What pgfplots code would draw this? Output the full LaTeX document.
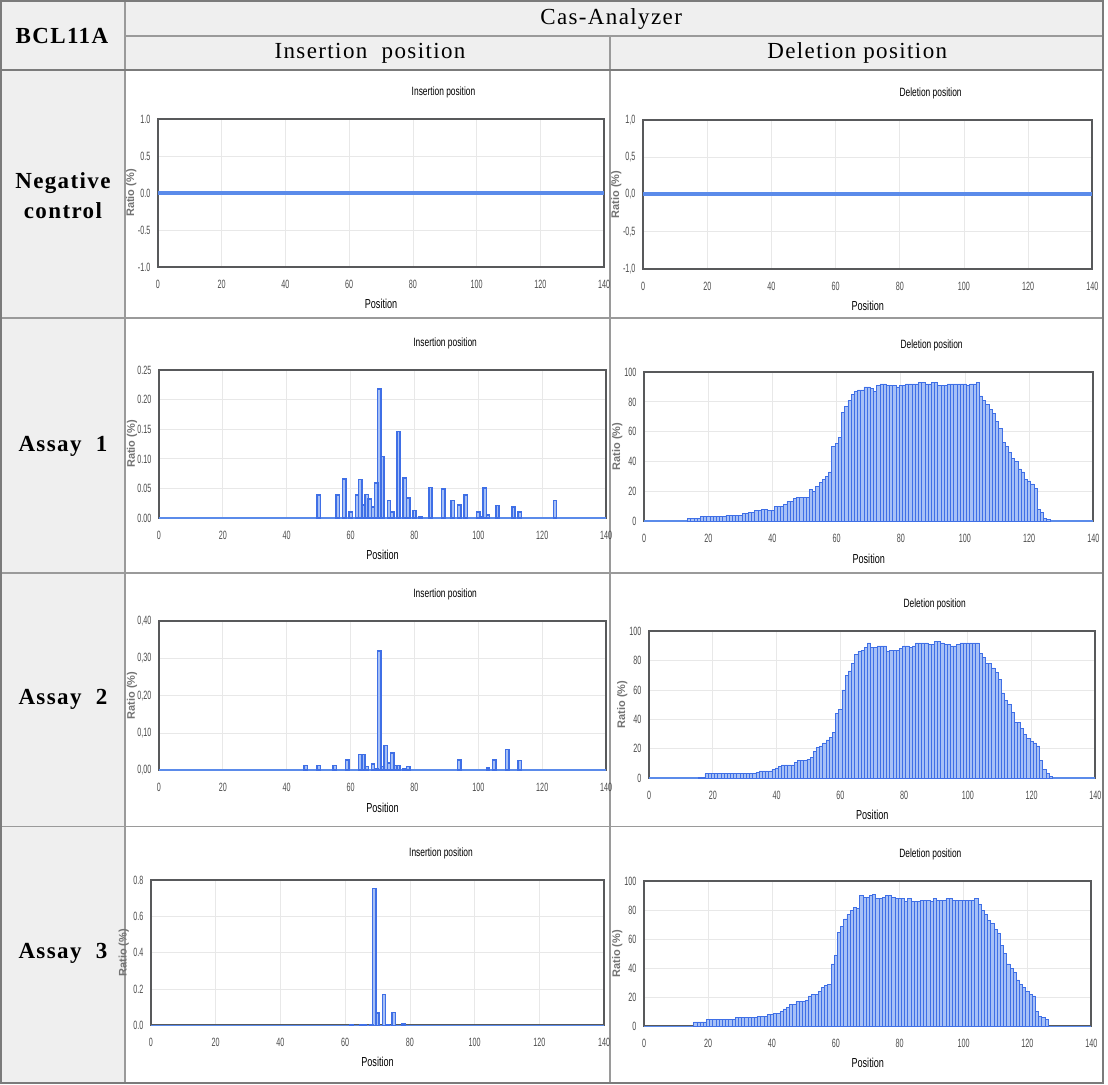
\documentclass[border=0pt]{standalone}
\usepackage{fontspec}
\setmainfont{Liberation Serif}
\newfontfamily\hdfont[LetterSpace=6]{Liberation Serif}
\newfontfamily\plotfont[FakeStretch=0.7]{Liberation Sans}
\newfontfamily\ticfont[FakeStretch=0.6]{Liberation Sans}
\newfontfamily\labfont{Liberation Sans}
\usepackage{pgfplots}
\pgfplotsset{compat=1.18}
\definecolor{barln}{HTML}{3F6FE6}
\definecolor{barfl}{HTML}{A6C0F6}
\definecolor{zln}{HTML}{5B8BEA}
\definecolor{frm}{HTML}{58595B}
\definecolor{cellbg}{HTML}{EFEFEF}
\definecolor{rul}{HTML}{9A9A9A}
\pgfplotsset{
  cell/.style={scale only axis,anchor=north west,xmin=0,xmax=140,xtick={0,20,...,140},
    grid=major,major grid style={gray!18,line width=0.4pt},
    axis line style={frm,line width=1pt},major tick length=0pt,
    tick label style={font=\ticfont\fontsize{6}{7}\selectfont,text=black!70},
    /pgf/number format/assume math mode=true,
    xticklabel style={yshift=-3pt},yticklabel style={xshift=-0.3pt},
    title style={font=\plotfont\fontsize{6}{7}\selectfont,at={(axis description cs:0.64,1)},anchor=center,yshift=7.5pt},
    xlabel={Position},xlabel style={font=\plotfont\fontsize{6.5}{7}\selectfont,at={(axis description cs:0.5,-0.25)},anchor=center},
    ylabel={Ratio (\%)},ylabel style={font=\labfont\bfseries\fontsize{5.5}{6}\selectfont,text=black!55,at={(axis description cs:-0.06,0.5)},anchor=center}},
  ins/.style={ybar,bar width=1.05,bar shift=0pt,draw=barln,fill=barfl,line width=0.75pt},
  del/.style={ybar,bar width=1,bar shift=0pt,draw=barln,fill=barfl,line width=0.35pt},
  zero/.style={zln,line width=0.8pt},
  negz/.style={zln,line width=2pt},
  yfix/.style={yticklabel style={/pgf/number format/.cd,fixed,fixed zerofill,precision=#1}}
}

\begin{document}
\begin{tikzpicture}
% table
\begin{scope}[x=0.5pt,y=-0.5pt]
\fill[cellbg] (3,3) rectangle (1105,72);
\fill[cellbg] (3,72) rectangle (127,1085);
\draw[rul,line width=0.7pt] (127,38)--(1105,38);
\draw[rul,line width=0.7pt] (127,3)--(127,1085);
\draw[rul,line width=0.7pt] (612,38)--(612,1085);
\draw[rul!80!black,line width=0.9pt] (3,72)--(1105,72);
\foreach \yy in {320,575,828} \draw[rul,line width=0.7pt] (3,\yy)--(1105,\yy);
\draw[rul!80!black,line width=0.9pt] (3,3) rectangle (1105,1085);
\node[font=\hdfont\bfseries\fontsize{11.5}{13}\selectfont] at (64,38) {BCL11A};
\node[font=\hdfont\fontsize{11.5}{13}\selectfont] at (613,21) {Cas-Analyzer};
\node[font=\hdfont\fontsize{11.5}{13}\selectfont] at (372,55) {Insertion\ \ position};
\node[font=\hdfont\fontsize{11.5}{13}\selectfont] at (859,55) {Deletion position};
\node[font=\hdfont\bfseries\fontsize{11.5}{13}\selectfont,align=center] at (65,198) {Negative\\[2pt]control};
\node[font=\hdfont\bfseries\fontsize{11.5}{13}\selectfont] at (65,448) {Assay\ \ 1};
\node[font=\hdfont\bfseries\fontsize{11.5}{13}\selectfont] at (65,701) {Assay\ \ 2};
\node[font=\hdfont\bfseries\fontsize{11.5}{13}\selectfont] at (65,955) {Assay\ \ 3};
\end{scope}

% Negative control, insertion
\begin{axis}[cell,at={(80pt,-60.5pt)},width=223pt,height=74pt,ymin=-1,ymax=1,ytick={-1,-0.5,0,0.5,1},yfix=1,title={Insertion position}]
\addplot[negz] coordinates {(0,0) (140,0)};
\end{axis}
% Negative control, deletion
\begin{axis}[cell,at={(322.5pt,-61pt)},width=224.5pt,height=74.5pt,ymin=-1,ymax=1,ytick={-1,-0.5,0,0.5,1},yfix=1,
  yticklabel style={/pgf/number format/use comma},title={Deletion position}]
\addplot[negz] coordinates {(0,0) (140,0)};
\end{axis}

% Assay 1, insertion
\begin{axis}[cell,at={(80.5pt,-186pt)},width=223.5pt,height=74pt,ymin=0,ymax=0.25,ytick={0,0.05,...,0.26},yfix=2,title={Insertion position}]
\addplot[zero] coordinates {(0,0) (140,0)};
\addplot[ins] coordinates {(50,0.039) (56,0.039) (58,0.066) (60,0.010) (62,0.039) (63,0.065) (64,0.022) (65,0.040)
  (66,0.032) (67,0.019) (68,0.059) (69,0.218) (70,0.104) (72,0.030) (73,0.010) (75,0.146) (77,0.068) (78,0.034)
  (80,0.013) (82,0.003) (85,0.052) (89,0.049) (92,0.030) (94,0.022) (96,0.039) (100,0.010) (101,0.003) (102,0.051)
  (103,0.005) (106,0.021) (111,0.019) (113,0.010) (124,0.030)};
\end{axis}
% Assay 1, deletion
\begin{axis}[cell,at={(323pt,-187pt)},width=224.5pt,height=74.5pt,ymin=0,ymax=100,ytick={0,20,...,100},title={Deletion position}]
\addplot[zero] coordinates {(0,0) (140,0)};
\addplot[del] coordinates {(14,2) (15,2) (16,2) (17,2) (18,3) (19,3) (20,3) (21,3) (22,3) (23,3) (24,3) (25,3)
  (26,4) (27,4) (28,4) (29,4) (30,4) (31,5) (32,5) (33,6) (34,6) (35,7) (36,7) (37,8) (38,8) (39,7) (40,7)
  (41,10) (42,10) (43,10) (44,11) (45,13) (46,13) (47,15) (48,16) (49,16) (50,16) (51,16) (52,21) (53,20)
  (54,23) (55,26) (56,28) (57,30) (58,33) (59,50) (60,52) (61,56) (62,73) (63,77) (64,81) (65,85) (66,87)
  (67,88) (68,88) (69,90) (70,90) (71,89) (72,87) (73,91) (74,92) (75,92) (76,91) (77,91) (78,91) (79,90)
  (80,91) (81,91) (82,92) (83,92) (84,92) (85,92) (86,93) (87,93) (88,92) (89,92) (90,93) (91,93) (92,91)
  (93,91) (94,91) (95,92) (96,92) (97,92) (98,92) (99,92) (100,92) (101,91) (102,92) (103,92) (104,93)
  (105,84) (106,81) (107,78) (108,75) (109,72) (110,67) (111,62) (112,53) (113,50) (114,46) (115,42)
  (116,40) (117,35) (118,33) (119,28) (120,27) (121,25) (122,22) (123,8) (124,6) (125,2) (126,1)};
\end{axis}

% Assay 2, insertion
\begin{axis}[cell,at={(80.5pt,-311.5pt)},width=223.5pt,height=74.5pt,ymin=0,ymax=0.4,ytick={0,0.1,...,0.41},yfix=2,
  yticklabel style={/pgf/number format/use comma},title={Insertion position}]
\addplot[zero] coordinates {(0,0) (140,0)};
\addplot[ins] coordinates {(46,0.013) (50,0.013) (55,0.013) (59,0.027) (63,0.042) (64,0.042) (65,0.010) (67,0.016)
  (68,0.005) (69,0.320) (70,0.010) (71,0.066) (72,0.020) (73,0.046) (74,0.013) (75,0.013) (77,0.005) (78,0.010)
  (94,0.027) (103,0.006) (105,0.027) (109,0.055) (113,0.026)};
\end{axis}
% Assay 2, deletion
\begin{axis}[cell,at={(325.5pt,-316.5pt)},width=223pt,height=73.5pt,ymin=0,ymax=100,ytick={0,20,...,100},title={Deletion position}]
\addplot[zero] coordinates {(0,0) (140,0)};
\addplot[del] coordinates {(16,0.5) (17,0.5) (18,3) (19,3) (20,3) (21,3) (22,3) (23,3) (24,3) (25,3) (26,3) (27,3)
  (28,3) (29,3) (30,3) (31,3) (32,3) (33,3) (34,4) (35,5) (36,5) (37,5) (38,5) (39,6) (40,7) (41,8) (42,9)
  (43,9) (44,9) (45,9) (46,11) (47,12) (48,12) (49,12) (50,13) (51,14) (52,18) (53,21) (54,22) (55,24) (56,26)
  (57,28) (58,31) (59,44) (60,47) (61,60) (62,70) (63,73) (64,78) (65,84) (66,86) (67,87) (68,89) (69,92)
  (70,89) (71,89) (72,90) (73,90) (74,90) (75,86) (76,87) (77,87) (78,87) (79,88) (80,90) (81,90) (82,89)
  (83,90) (84,92) (85,92) (86,92) (87,92) (88,91) (89,91) (90,93) (91,93) (92,92) (93,91) (94,91) (95,90)
  (96,90) (97,91) (98,92) (99,92) (100,92) (101,92) (102,92) (103,92) (104,85) (105,82) (106,78) (107,78)
  (108,75) (109,72) (110,67) (111,58) (112,53) (113,50) (114,45) (115,38) (116,38) (117,34) (118,30)
  (119,27) (120,25) (121,24) (122,22) (123,12) (124,6) (125,3) (126,1)};
\end{axis}

% Assay 3, insertion
\begin{axis}[cell,at={(76.5pt,-441pt)},width=226.5pt,height=72.5pt,ymin=0,ymax=0.8,ytick={0,0.2,...,0.81},yfix=1,title={Insertion position}]
\addplot[zero] coordinates {(0,0) (140,0)};
\addplot[ins] coordinates {(62,0.004) (65,0.004) (66,0.004) (68,0.004) (69,0.754) (70,0.068) (72,0.170)
  (73,0.004) (75,0.072) (78,0.006)};
\end{axis}
% Assay 3, deletion
\begin{axis}[cell,at={(323pt,-441.5pt)},width=223.5pt,height=72.5pt,ymin=0,ymax=100,ytick={0,20,...,100},title={Deletion position}]
\addplot[zero] coordinates {(0,0) (140,0)};
\addplot[del] coordinates {(16,3) (17,3) (18,3) (19,3) (20,5) (21,5) (22,5) (23,5) (24,5) (25,5) (26,5) (27,5)
  (28,5) (29,6) (30,6) (31,6) (32,6) (33,6) (34,6) (35,6) (36,7) (37,7) (38,7) (39,8) (40,8) (41,9) (42,9)
  (43,10) (44,12) (45,13) (46,15) (47,15) (48,17) (49,17) (50,17) (51,18) (52,21) (53,22) (54,22) (55,24)
  (56,27) (57,28) (58,29) (59,43) (60,49) (61,65) (62,69) (63,74) (64,77) (65,80) (66,82) (67,81) (68,90)
  (69,89) (70,89) (71,90) (72,91) (73,88) (74,88) (75,89) (76,90) (77,90) (78,89) (79,88) (80,88) (81,88)
  (82,86) (83,88) (84,86) (85,86) (86,86) (87,87) (88,87) (89,87) (90,86) (91,88) (92,87) (93,87) (94,87)
  (95,88) (96,88) (97,87) (98,87) (99,87) (100,87) (101,87) (102,87) (103,87) (104,88) (105,84) (106,80)
  (107,77) (108,73) (109,71) (110,67) (111,64) (112,56) (113,50) (114,43) (115,40) (116,37) (117,32)
  (118,29) (119,27) (120,24) (121,22) (122,21) (123,10) (124,7) (125,6) (126,5)};
\end{axis}
\end{tikzpicture}
\end{document}
